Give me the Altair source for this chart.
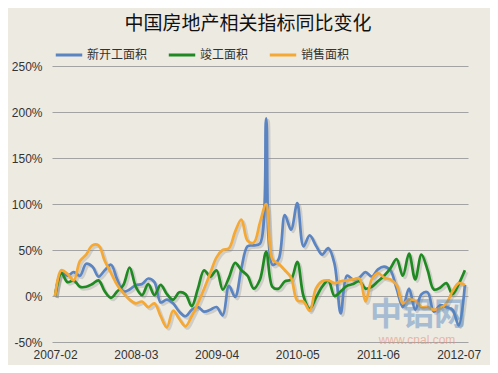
import altair as alt
import pandas as pd

title_text = "中国房地产相关指标同比变化"
series_names = ["新开工面积", "竣工面积", "销售面积"]
series_colors = ["#5A84C2", "#1F8A22", "#F5A833"]
tick_labels = ["2007-02", "2008-03", "2009-04", "2010-05", "2011-06", "2012-07"]
y_ticks = [-50, 0, 50, 100, 150, 200, 250]

# monthly yoy change (%), 2007-02 .. 2012-08
new_start = [
    0, 25, 22, 26, 22, 35, 32, 21, 28, 34,
    18, 5, 7, 12, 13, 19, 15, -7, -4, -8,
    -17, -22, -15, -12, -17, -15, -12, -21, 11, -1,
    30, 54, 55, 57, 193, 34, 40, 88, 72, 101,
    54, 66, 55, 45, 52, 35, -19, 22, 18, 20,
    26, 21, 29, 32, 28, 8, -12, 8, -15, 2,
    4, -17, -10, -12, -15, -32, 12,
]
completed = [
    0, 25, 15, 17, 10, 10, 13, 17, 5, -2,
    5, 12, 31, 10, 1, 13, 1, 12, 2, -4,
    4, 2, -11, 8, 28, 21, 28, 7, 20, 36,
    28, 22, 8, 18, 48, 10, 8, 16, 18, 37,
    0, -14, -2, 10, 17, 0, 5, 11, 13, 16,
    8, 10, 16, 22, 30, 40, 22, 46, 18, 45,
    28, 7, 9, 14, 2, 13, 28,
]
sales = [
    0, 28, 24, 17, 38, 45, 55, 55, 38, 25,
    12, 3, -4, -8, -6, -12, -8, -22, -34, -16,
    -25, -33, -22, -8, 8, 25, 42, 50, 52, 70,
    83, 60, 58, 80, 100, 40, 35, 28, 20, -5,
    -6, -16, 8, 16, 17, 14, 16, 17, 18, 19,
    -6, 18, 25, 20, 18, 12, -8, -4, -5, -12,
    -12, -15, -13, -8, 5, 14, 12,
]

rows = []
for name, vals in zip(series_names, [new_start, completed, sales]):
    for i, v in enumerate(vals):
        rows.append({"idx": i, "series": name, "value": v, "order": series_names.index(name)})
df = pd.DataFrame(rows)
n = len(new_start)

label_expr = "[" + ",".join(f"'{t}'" for t in tick_labels) + "][round(datum.value / 13)]"

x_enc = alt.X(
    "idx:Q",
    scale=alt.Scale(domain=[-0.5, n - 0.5], nice=False, zero=False),
    axis=alt.Axis(
        values=[13 * k for k in range(len(tick_labels))],
        labelExpr=label_expr,
        grid=False, domain=False, ticks=False, title=None,
        labelFont="Liberation Sans", labelFontSize=12, labelColor="#333333",
        labelPadding=7,
    ),
)
y_enc = alt.Y(
    "value:Q",
    scale=alt.Scale(domain=[-50, 250], nice=False),
    axis=alt.Axis(
        values=y_ticks,
        labelExpr="datum.value + '%'",
        grid=True, gridColor="#A3A3A3", gridWidth=1,
        domain=False, ticks=False, title=None,
        labelFont="Liberation Sans", labelFontSize=12, labelColor="#333333",
        labelPadding=10,
    ),
)

base = alt.Chart(df)

shadow = base.mark_line(
    interpolate="catmull-rom", strokeWidth=3, color="#8C8C8C", opacity=0.3,
    xOffset=2, yOffset=2,
).encode(x=x_enc, y=y_enc, detail="series:N")

lines = base.mark_line(interpolate="catmull-rom", strokeWidth=2.7).encode(
    x=x_enc,
    y=y_enc,
    color=alt.Color(
        "series:N",
        scale=alt.Scale(domain=series_names, range=series_colors),
        legend=alt.Legend(
            orient="none", legendX=2, legendY=-26, direction="horizontal",
            title=None, symbolType="stroke", symbolStrokeWidth=3, symbolSize=700,
            labelFont="Noto Sans CJK SC", labelFontSize=12, labelColor="#333333",
            columnPadding=14, labelOffset=3,
        ),
    ),
    order="order:Q",
)

wm1 = alt.Chart(pd.DataFrame({"t": ["中铝网"]})).mark_text(
    font="Noto Sans CJK SC", fontSize=32, fontWeight="bold", color="#4F86C0", opacity=0.45,
).encode(x=alt.value(366), y=alt.value(249), text="t:N")
wm2 = alt.Chart(pd.DataFrame({"t": ["www.cnal.com"]})).mark_text(
    font="Liberation Sans", fontSize=12, color="#E5937A", opacity=0.6,
).encode(x=alt.value(365), y=alt.value(274), text="t:N")

chart = alt.layer(shadow, lines, wm1, wm2).properties(
    width=416,
    height=276,
    title=alt.TitleParams(
        title_text, font="Noto Sans CJK SC", fontSize=19, fontWeight="normal",
        color="#111111", anchor="middle", dx=-12, offset=6,
    ),
    autosize=alt.AutoSizeParams(type="none"),
    padding={"left": 44, "top": 58, "right": 22, "bottom": 23},
    background="#EDEAE2",
).configure_view(stroke=None)

chart.save("out.html", embed_options={"renderer": "svg", "actions": False})
